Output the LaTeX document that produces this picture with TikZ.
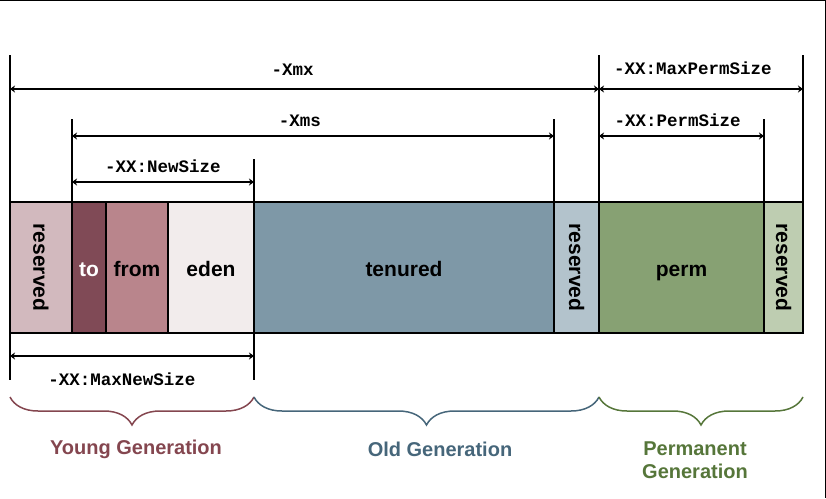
\documentclass[tikz,border=0pt]{standalone}
\usepackage{fontspec}
\setmainfont{Liberation Sans}
\setmonofont{Liberation Mono}
\usepackage{xcolor}
\usetikzlibrary{arrows.meta,decorations.pathreplacing}

\definecolor{resyoung}{HTML}{D2B9BE}
\definecolor{tocol}{HTML}{804A56}
\definecolor{fromcol}{HTML}{B9858C}
\definecolor{edencol}{HTML}{F2ECEC}
\definecolor{tencol}{HTML}{7E98A7}
\definecolor{resold}{HTML}{B3C3CC}
\definecolor{permcol}{HTML}{87A173}
\definecolor{resperm}{HTML}{BECDB1}
\definecolor{youngtxt}{HTML}{84464F}
\definecolor{oldtxt}{HTML}{46667A}
\definecolor{permtxt}{HTML}{56763A}

\begin{document}
\begin{tikzpicture}[x=1pt, y=-1pt,
    seg/.style={draw, line width=1.2pt, minimum height=131pt, inner sep=0pt, outer sep=0pt,
        text height=17.5pt, text depth=0pt, font=\fontsize{21}{25}\selectfont\bfseries},
    rot/.style={rotate=-90, inner sep=0pt, font=\fontsize{21}{25}\selectfont\bfseries},
    ext/.style={line width=2.4pt},
    dim/.style={<->, >={Stealth[length=5pt,width=7pt,inset=1.5pt]}, line width=2pt},
    lbl/.style={inner sep=0pt, font=\fontsize{17.5}{20}\selectfont\ttfamily\bfseries},
    gen/.style={decorate, decoration={brace, mirror, amplitude=28pt}, line width=1.5pt},
    genlbl/.style={align=center, font=\fontsize{20}{23}\selectfont\bfseries}]
    \useasboundingbox (0,0) rectangle (826,498);
    \draw[line width=1.3pt] (0,0.6) -- (825.3,0.6) -- (825.3,498);

    % heap segments
    \node[seg, fill=resyoung, minimum width=62pt] (res1) at (41, 267.5) {};
    \node[rot] (res1txt) at (res1.center) {reserved};
    \node[seg, fill=tocol, minimum width=34pt, text=white] (to) at (89, 267.5) {to};
    \node[seg, fill=fromcol, minimum width=62pt] (from) at (137, 267.5) {from};
    \node[seg, fill=edencol, minimum width=86pt] (eden) at (211, 267.5) {eden};
    \node[seg, fill=tencol, minimum width=300pt] (tenured) at (404, 267.5) {tenured};
    \node[seg, fill=resold, minimum width=45pt] (res2) at (576.5, 267.5) {};
    \node[rot] (res2txt) at (res2.center) {reserved};
    \node[seg, fill=permcol, minimum width=165pt] (perm) at (681.5, 267.5) {perm};
    \node[seg, fill=resperm, minimum width=39pt] (res3) at (783.5, 267.5) {};
    \node[rot] (res3txt) at (res3.center) {reserved};

    % extension lines
    \draw[ext] (res1.north west) -- ++(0,-147);
    \draw[ext] (res1.south west) -- ++(0,47);
    \draw[ext] (to.north west) -- ++(0,-83);
    \draw[ext] (eden.north east) -- ++(0,-43);
    \draw[ext] (eden.south east) -- ++(0,47);
    \draw[ext] (res2.north west) -- ++(0,-83);
    \draw[ext] (perm.north west) -- ++(0,-147);
    \draw[ext] (res3.north west) -- ++(0,-83);
    \draw[ext] (res3.north east) -- ++(0,-147);

    % dimension arrows
    \coordinate (mx1) at (10,89);
    \coordinate (mx2) at (599,89);
    \coordinate (mp2) at (803,89);
    \coordinate (ms1) at (72,136);
    \coordinate (ms2) at (554,136);
    \coordinate (ps1) at (599,136);
    \coordinate (ps2) at (764,136);
    \coordinate (ns1) at (72,182);
    \coordinate (ns2) at (254,182);
    \coordinate (mn1) at (10,356);
    \coordinate (mn2) at (254,356);

    \draw[dim] (mx1) -- node[lbl, pos=0.48, above=13pt] {-Xmx} (mx2);
    \draw[dim] (mx2) -- node[lbl, pos=0.46, above=13.5pt] {-XX:MaxPermSize} (mp2);
    \draw[dim] (ms1) -- node[lbl, pos=0.473, above=8.5pt] {-Xms} (ms2);
    \draw[dim] (ps1) -- node[lbl, pos=0.476, above=8.5pt] {-XX:PermSize} (ps2);
    \draw[dim] (ns1) -- node[lbl, above=8.5pt] {-XX:NewSize} (ns2);
    \draw[dim] (mn1) -- node[lbl, pos=0.459, below=16pt] {-XX:MaxNewSize} (mn2);

    % generations
    \coordinate (yb1) at (10,397);
    \coordinate (yb2) at (254,397);
    \coordinate (ob2) at (599,397);
    \coordinate (pb2) at (803,397);
    \draw[gen, youngtxt] (yb1) -- (yb2);
    \draw[gen, oldtxt] (yb2) -- (ob2);
    \draw[gen, permtxt] (ob2) -- (pb2);

    \node[genlbl, text=youngtxt] (young) at (136,449) {Young Generation};
    \node[genlbl, text=oldtxt] (old) at (440,449) {Old Generation};
    \node[genlbl, text=permtxt] (permgen) at (695,460) {Permanent\\Generation};
\end{tikzpicture}
\end{document}
